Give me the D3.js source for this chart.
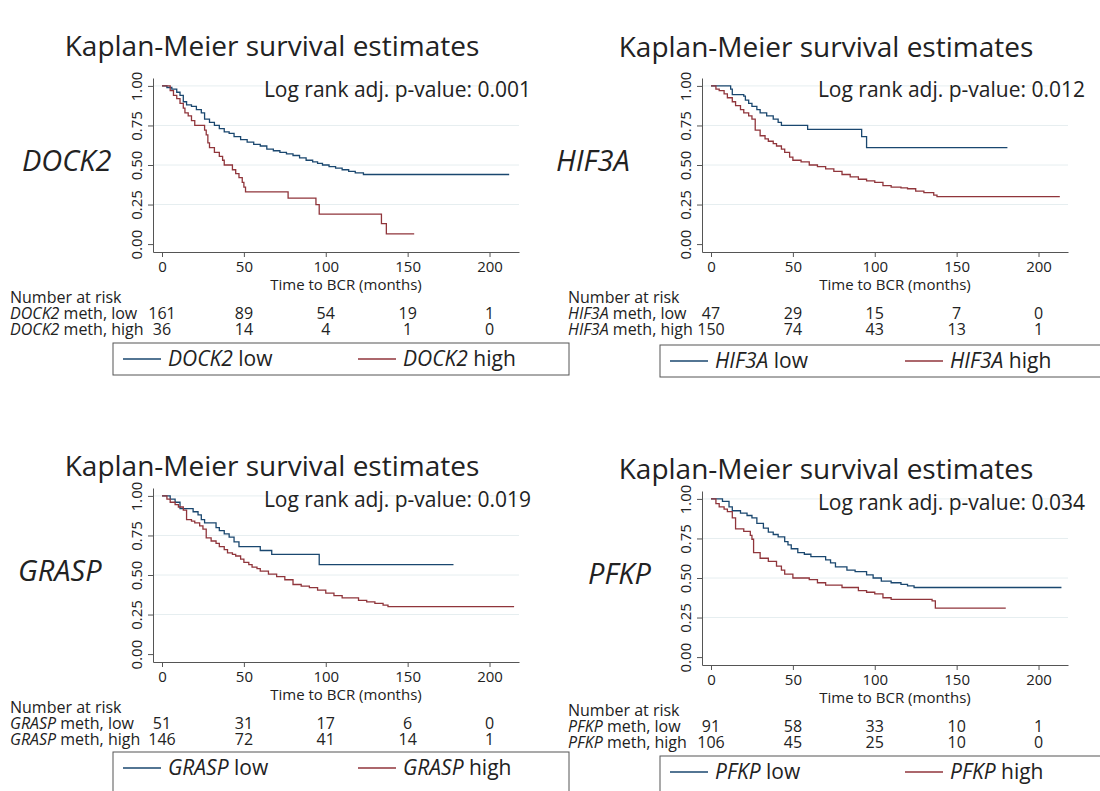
<!DOCTYPE html>
<html>
<head>
<meta charset="utf-8">
<script src="https://cdn.jsdelivr.net/npm/d3@7"></script>
<style>
  body { margin: 0; background: #fff; }
  text { font-family: "Open Sans", sans-serif; fill: #222; }
</style>
</head>
<body>
<svg width="1100" height="791"></svg>
<script>
// survival steps: [months, survival]
var dock2Low = [[0,1],[3,.99],[6,.98],[9,.96],[11,.94],[13,.90],[15,.88],[18,.87],[21,.85],[24,.83],[26,.79],[29,.77],[32,.75],[35,.73],[38,.71],[41,.70],[44,.68],[48,.66],[52,.645],[56,.63],[60,.62],[64,.60],[68,.59],[72,.58],[76,.57],[80,.56],[84,.545],[88,.53],[92,.52],[95,.51],[98,.50],[102,.49],[106,.48],[110,.47],[114,.46],[118,.45],[123,.44],[212,.44]];
var dock2High = [[0,1],[5,.97],[7,.94],[9,.92],[11,.89],[13,.86],[14,.83],[16,.81],[18,.78],[20,.75],[26,.72],[27,.69],[28,.64],[29,.61],[32,.58],[35,.555],[37,.53],[38,.50],[43,.47],[45,.445],[47,.42],[49,.39],[50,.36],[51,.33],[77,.29],[94,.25],[96,.19],[134,.13],[137,.065],[154,.065]];

var hif3aLow = [[0,1],[12,.98],[13,.945],[20,.935],[21,.91],[23,.89],[25,.87],[28,.85],[30,.83],[34,.81],[38,.79],[41,.77],[43,.75],[59,.725],[92,.68],[95,.61],[181,.61]];
var hif3aHigh = [[0,1],[3,.98],[5,.97],[8,.95],[10,.925],[13,.9],[15,.875],[18,.85],[20,.83],[23,.81],[25,.79],[27,.72],[30,.685],[33,.665],[35,.65],[38,.635],[40,.62],[43,.60],[45,.58],[48,.55],[50,.53],[55,.52],[60,.50],[65,.49],[70,.475],[75,.46],[80,.44],[85,.425],[90,.41],[95,.40],[100,.39],[105,.37],[110,.36],[116,.355],[120,.35],[125,.335],[130,.325],[136,.31],[138,.30],[213,.30]];

var graspLow = [[0,1],[5,.98],[8,.96],[11,.92],[19,.90],[22,.88],[24,.85],[26,.83],[33,.80],[35,.78],[38,.76],[41,.74],[44,.71],[47,.68],[60,.655],[67,.63],[96,.565],[178,.565]];
var graspHigh = [[0,1],[3,.98],[5,.96],[8,.945],[10,.93],[13,.91],[15,.85],[18,.84],[20,.83],[23,.81],[25,.79],[27,.735],[30,.715],[33,.70],[35,.68],[38,.66],[40,.64],[43,.63],[45,.62],[48,.60],[50,.58],[53,.565],[55,.55],[58,.54],[60,.525],[65,.505],[70,.49],[75,.47],[80,.44],[85,.43],[90,.42],[95,.405],[100,.385],[105,.37],[110,.355],[120,.34],[125,.33],[130,.32],[135,.31],[138,.30],[215,.30]];

var pfkpLow = [[0,1],[7,.985],[11,.95],[13,.925],[18,.91],[22,.895],[25,.88],[28,.845],[32,.815],[35,.79],[38,.775],[41,.76],[45,.73],[47,.71],[49,.685],[53,.66],[57,.65],[61,.635],[70,.615],[73,.595],[76,.57],[83,.55],[88,.54],[95,.52],[99,.50],[104,.48],[110,.47],[116,.46],[120,.45],[124,.44],[214,.44]];
var pfkpHigh = [[0,1],[3,.97],[5,.95],[8,.935],[10,.92],[13,.88],[15,.81],[20,.795],[24,.77],[25,.745],[26,.66],[30,.625],[35,.605],[40,.575],[43,.55],[45,.525],[50,.50],[60,.49],[65,.47],[70,.455],[80,.44],[90,.42],[95,.41],[100,.40],[105,.375],[110,.365],[135,.355],[137,.31],[180,.31]];

// number at risk table
var riskTimes = [0, 50, 100, 150, 200];
var dock2RiskLow = [161, 89, 54, 19, 1], dock2RiskHigh = [36, 14, 4, 1, 0];
var hif3aRiskLow = [47, 29, 15, 7, 0], hif3aRiskHigh = [150, 74, 43, 13, 1];
var graspRiskLow = [51, 31, 17, 6, 0], graspRiskHigh = [146, 72, 41, 14, 1];
var pfkpRiskLow = [91, 58, 33, 10, 1], pfkpRiskHigh = [106, 45, 25, 10, 0];

var genes = ["DOCK2", "HIF3A", "GRASP", "PFKP"];
var pValues = ["0.001", "0.012", "0.019", "0.034"];
var yTicks = [0, 0.25, 0.5, 0.75, 1];

var panels = [
  {gene: genes[0], p: pValues[0], low: dock2Low, high: dock2High, rLow: dock2RiskLow, rHigh: dock2RiskHigh},
  {gene: genes[1], p: pValues[1], low: hif3aLow, high: hif3aHigh, rLow: hif3aRiskLow, rHigh: hif3aRiskHigh},
  {gene: genes[2], p: pValues[2], low: graspLow, high: graspHigh, rLow: graspRiskLow, rHigh: graspRiskHigh},
  {gene: genes[3], p: pValues[3], low: pfkpLow, high: pfkpHigh, rLow: pfkpRiskLow, rHigh: pfkpRiskHigh}
];

// where each sub-figure sits
var layout = [
  {dx: 0,   dy: 0,   geneX: 22,  narX: 10,  titleX: 272, titleY: 56,  pX: 531, legY: 343, legH: 32},
  {dx: 549, dy: 0,   geneX: 556, narX: 568, titleX: 826, titleY: 57,  pX: 1085, legY: 345, legH: 32},
  {dx: 0,   dy: 410, geneX: 18,  narX: 10,  titleX: 272, titleY: 476, pX: 531, legY: 752, legH: 45},
  {dx: 549, dy: 413, geneX: 588, narX: 568, titleX: 826, titleY: 479, pX: 1085, legY: 756, legH: 45}
];

var blue = "#1a476f", red = "#90353b";
var svg = d3.select("svg");

panels.forEach(function(d, i) {
  var L = layout[i];
  var g = svg.append("g");
  var x = d3.scaleLinear().domain([-5.5, 218]).range([L.dx + 153, L.dx + 519]);
  var y = d3.scaleLinear().domain([-0.05, 1.05]).range([L.dy + 252, L.dy + 78]);

  g.append("text")
    .attr("x", L.titleX).attr("y", L.titleY)
    .attr("text-anchor", "middle")
    .style("font-size", "28px")
    .text("Kaplan-Meier survival estimates");

  // grid
  g.selectAll(".grid").data(yTicks.slice(1)).enter().append("line")
    .attr("x1", x(-5.5)).attr("x2", x(218))
    .attr("y1", function(v) { return y(v); }).attr("y2", function(v) { return y(v); })
    .attr("stroke", "#e6eef0").attr("stroke-width", 1);

  var yAxis = g.append("g").attr("transform", "translate(" + x(-5.5) + ",0)")
    .call(d3.axisLeft(y).tickValues(yTicks).tickFormat(d3.format(".2f")).tickSize(5).tickSizeOuter(0));
  yAxis.selectAll("text")
    .attr("transform", "rotate(-90)")
    .attr("x", 0).attr("y", -11).attr("dy", 0)
    .style("text-anchor", "middle");

  var xAxis = g.append("g").attr("transform", "translate(0," + y(-0.05) + ")")
    .call(d3.axisBottom(x).tickValues(riskTimes).tickSize(5).tickPadding(4).tickSizeOuter(0));

  [yAxis, xAxis].forEach(function(a) {
    a.select(".domain").attr("stroke", "#555");
    a.selectAll(".tick line").attr("stroke", "#555");
    a.selectAll("text").style("font-size", "15px").style("font-family", "'Open Sans', sans-serif").attr("fill", "#222");
  });

  var line = d3.line()
    .x(function(p) { return x(p[0]); })
    .y(function(p) { return y(p[1]); })
    .curve(d3.curveStepAfter);

  g.append("path").datum(d.low).attr("d", line)
    .attr("fill", "none").attr("stroke", blue).attr("stroke-width", 1.3);
  g.append("path").datum(d.high).attr("d", line)
    .attr("fill", "none").attr("stroke", red).attr("stroke-width", 1.3);

  g.append("text")
    .attr("x", L.pX).attr("y", L.dy + 97)
    .attr("text-anchor", "end")
    .style("font-size", "21px")
    .text("Log rank adj. p-value: " + d.p);

  g.append("text")
    .attr("x", L.geneX).attr("y", L.dy + 171)
    .style("font-size", "29px").style("font-style", "italic")
    .text(d.gene);

  g.append("text")
    .attr("x", L.dx + 346).attr("y", L.dy + 290)
    .attr("text-anchor", "middle").style("font-size", "15px")
    .text("Time to BCR (months)");

  // number at risk
  g.append("text").attr("x", L.narX).attr("y", L.dy + 303).style("font-size", "16px").text("Number at risk");
  [["low", d.rLow, 319], ["high", d.rHigh, 335]].forEach(function(r) {
    var t = g.append("text").attr("x", L.narX).attr("y", L.dy + r[2]).style("font-size", "16px");
    t.append("tspan").style("font-style", "italic").text(d.gene);
    t.append("tspan").text(" meth, " + r[0]);
    g.selectAll(null).data(r[1]).enter().append("text")
      .attr("x", function(v, k) { return x(riskTimes[k]); })
      .attr("y", L.dy + r[2])
      .attr("text-anchor", "middle").style("font-size", "16px")
      .text(function(v) { return v; });
  });

  // legend
  var lx = L.dx + (i % 2 ? 111 : 113), ly = L.legY;
  g.append("rect").attr("x", lx).attr("y", ly).attr("width", 456).attr("height", L.legH)
    .attr("fill", "#fff").attr("stroke", "#555").attr("stroke-width", 1);
  [["low", blue, 10], ["high", red, 245]].forEach(function(k) {
    g.append("line").attr("x1", lx + k[2]).attr("x2", lx + k[2] + 38)
      .attr("y1", ly + 16).attr("y2", ly + 16).attr("stroke", k[1]).attr("stroke-width", 1.3);
    var t = g.append("text").attr("x", lx + k[2] + 45).attr("y", ly + 23).style("font-size", "21px");
    t.append("tspan").style("font-style", "italic").text(d.gene);
    t.append("tspan").text(" " + k[0]);
  });
});
</script>
</body>
</html>
